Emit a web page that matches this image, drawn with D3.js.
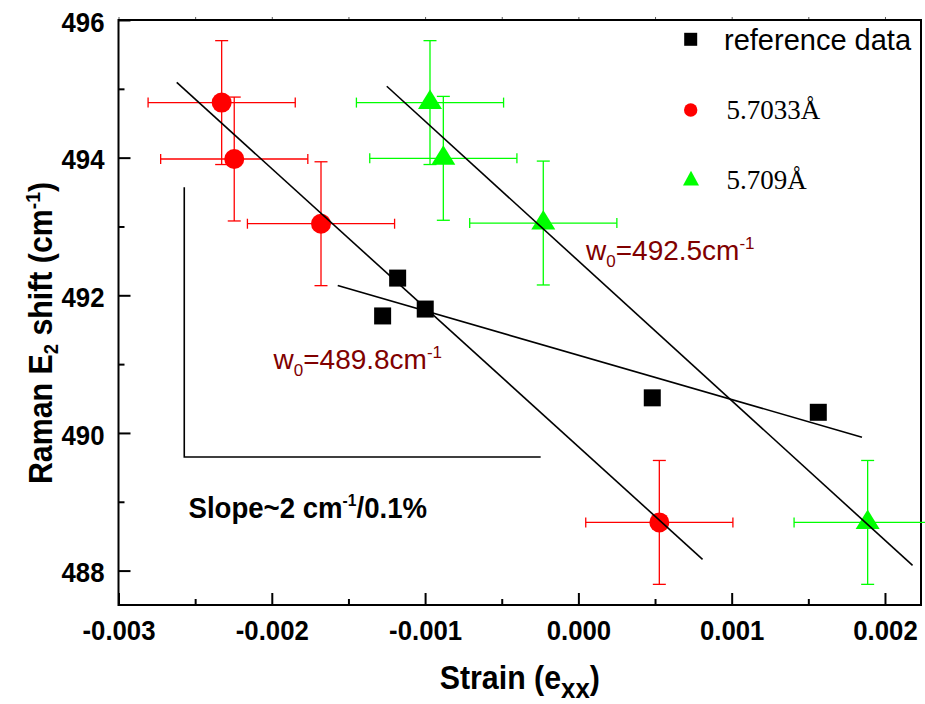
<!DOCTYPE html>
<html>
<head>
<meta charset="utf-8">
<script src="https://cdn.jsdelivr.net/npm/d3@7"></script>
<style>
  body { margin: 0; background: #fff; }
  svg { font-family: "Liberation Sans", Arial, sans-serif; }
  .serif { font-family: "Liberation Serif", "Times New Roman", serif; }
</style>
</head>
<body>
<svg id="chart" width="925" height="704"></svg>
<script>
// Raman E2 shift versus in-plane strain
const refStrain   = [-0.001277, -0.001179, -0.000999, 0.000482, 0.001565];
const refShift    = [491.70, 492.25, 491.80, 490.51, 490.30];
const redStrain   = [-0.002327, -0.002245, -0.001679, 0.000528];
const redShift    = [494.80, 493.98, 493.04, 488.70];
const greenStrain = [-0.000968, -0.000881, -0.000229, 0.001887];
const greenShift  = [494.80, 493.99, 493.05, 488.70];
const strainErr = 0.00048;
const shiftErr  = 0.9;

// linear fits: shift = w0 + slope * strain
const fitW0    = [489.8, 492.5, 491.13];
const fitSlope = [-2020, -2030, -644];
const fitFrom  = [-0.00262, -0.00125, -0.00157];
const fitTo    = [0.00081, 0.00218, 0.00185];
const fitLabelled = [true, true, false];

const xTicks = [-0.003, -0.002, -0.001, 0, 0.001, 0.002];
const xMinor = [-0.0025, -0.0015, -0.0005, 0.0005, 0.0015];
const yTicks = [488, 490, 492, 494, 496];
const yMinor = [489, 491, 493, 495];
const legendLabels = ["reference data", "5.7033Å", "5.709Å"];

// slope guide drawn as an open L
const guideStrain = [-0.002571, -0.000246];
const guideShift  = [493.57, 489.65];

const RED = "#ff0000", GREEN = "#00ff00", NOTE = "#800000";
const SX = 0.92; // horizontal squeeze of the bold labels

const svg = d3.select("#chart");
const L = 118.5, R = 921, T = 20, B = 605;
const x = d3.scaleLinear().domain([-0.003, 0.002235]).range([L, R]);
const y = d3.scaleLinear().domain([487.5, 496]).range([B, T]);

// ---- axes ----
const fmtX = d => d.toFixed(3);
const gx = svg.append("g").attr("transform", `translate(0,${B})`);
gx.call(d3.axisBottom(x).tickValues(xMinor).tickSize(-6).tickSizeOuter(0).tickFormat(""));
gx.append("g").call(d3.axisBottom(x).tickValues(xTicks).tickSize(-12).tickSizeOuter(0)
  .tickPadding(15).tickFormat(fmtX));
gx.selectAll(".domain").remove();
gx.selectAll("line").attr("stroke", "#000").attr("stroke-width", 2);
gx.selectAll("text").attr("font-size", 28).attr("font-weight", "bold")
  .attr("fill", "#000").attr("font-family", null)
  .attr("transform", `scale(${SX},1)`);

const gy = svg.append("g").attr("transform", `translate(${L},0)`);
gy.call(d3.axisLeft(y).tickValues(yMinor).tickSize(-6).tickSizeOuter(0).tickFormat(""));
gy.append("g").call(d3.axisLeft(y).tickValues(yTicks).tickSize(-12).tickSizeOuter(0)
  .tickPadding(14 / SX).tickFormat(d3.format("d")));
gy.selectAll(".domain").remove();
gy.selectAll("line").attr("stroke", "#000").attr("stroke-width", 2);
gy.selectAll("text").attr("font-size", 28).attr("font-weight", "bold")
  .attr("fill", "#000").attr("dy", "0.4em").attr("font-family", null)
  .attr("transform", `scale(${SX},1)`);
gx.attr("font-family", null); gy.attr("font-family", null);
gx.selectAll("g").attr("font-family", null); gy.selectAll("g").attr("font-family", null);

// small outward ticks along the top edge
const gt = svg.append("g").attr("transform", `translate(0,${T})`);
gt.call(d3.axisTop(x).tickValues(xTicks.concat(xMinor)).tickSize(3).tickSizeOuter(0).tickFormat(""));
gt.selectAll(".domain").remove();
gt.selectAll("line").attr("stroke", "#555").attr("stroke-width", 1);

// frame
svg.append("rect").attr("x", L).attr("y", T).attr("width", R - L).attr("height", B - T)
  .attr("fill", "none").attr("stroke", "#000").attr("stroke-width", 2);

// ---- axis titles ----
const xt = svg.append("text").attr("font-weight", "bold").attr("font-size", 33)
  .attr("text-anchor", "middle")
  .attr("transform", `translate(${(L + R) / 2},689) scale(${SX},1)`);
xt.append("tspan").text("Strain (e");
xt.append("tspan").attr("font-size", 28).attr("dy", 9).text("xx");
xt.append("tspan").attr("dy", -9).text(")");

const yt = svg.append("text").attr("font-weight", "bold").attr("font-size", 33)
  .attr("text-anchor", "middle")
  .attr("transform", `translate(52,333) rotate(-90) scale(${SX},1)`);
yt.append("tspan").text("Raman E");
yt.append("tspan").attr("font-size", 20).attr("dy", 6).text("2");
yt.append("tspan").attr("dy", -6).text(" shift (cm");
yt.append("tspan").attr("font-size", 21).attr("dy", -12).text("-1");
yt.append("tspan").attr("dy", 12).text(")");

// ---- slope guide ----
svg.append("path")
  .attr("d", d3.line()([
    [x(guideStrain[0]), y(guideShift[0])],
    [x(guideStrain[0]), y(guideShift[1])],
    [x(guideStrain[1]), y(guideShift[1])]
  ]))
  .attr("fill", "none").attr("stroke", "#000").attr("stroke-width", 1.6);

const st = svg.append("text").attr("font-weight", "bold").attr("font-size", 30)
  .attr("transform", `translate(188.5,518) scale(${SX},1)`);
st.append("tspan").text("Slope~2 cm");
st.append("tspan").attr("font-size", 17).attr("dy", -12).text("-1");
st.append("tspan").attr("dy", 12).text("/0.1%");

// ---- error bars ----
function errorBars(xs, ys, color) {
  const g = svg.append("g").attr("stroke", color).attr("stroke-width", 1.3).attr("fill", "none");
  xs.forEach((s, i) => {
    const v = ys[i];
    const cx = x(s), cy = y(v);
    const x0 = x(s - strainErr), x1 = x(s + strainErr);
    const y0 = y(v + shiftErr), y1 = y(v - shiftErr);
    g.append("line").attr("x1", x0).attr("x2", x1).attr("y1", cy).attr("y2", cy);
    g.append("line").attr("x1", x0).attr("x2", x0).attr("y1", cy - 5).attr("y2", cy + 5);
    g.append("line").attr("x1", x1).attr("x2", x1).attr("y1", cy - 5).attr("y2", cy + 5);
    g.append("line").attr("x1", cx).attr("x2", cx).attr("y1", y0).attr("y2", y1);
    g.append("line").attr("x1", cx - 6.5).attr("x2", cx + 6.5).attr("y1", y0).attr("y2", y0);
    g.append("line").attr("x1", cx - 6.5).attr("x2", cx + 6.5).attr("y1", y1).attr("y2", y1);
  });
}
errorBars(redStrain, redShift, RED);
errorBars(greenStrain, greenShift, GREEN);

// ---- markers ----
function trianglePath(w, h) {
  // centroid at the origin
  return `M0,${-2 * h / 3}L${w / 2},${h / 3}L${-w / 2},${h / 3}Z`;
}
svg.append("g").selectAll("circle").data(redStrain).join("circle")
  .attr("cx", d => x(d)).attr("cy", (d, i) => y(redShift[i])).attr("r", 10).attr("fill", RED);
svg.append("g").selectAll("path").data(greenStrain).join("path")
  .attr("d", trianglePath(24, 19.5))
  .attr("transform", (d, i) => `translate(${x(d)},${y(greenShift[i])})`).attr("fill", GREEN);
svg.append("g").selectAll("rect").data(refStrain).join("rect")
  .attr("x", d => x(d) - 8.5).attr("y", (d, i) => y(refShift[i]) - 8.5)
  .attr("width", 17).attr("height", 17).attr("fill", "#000");

// ---- fit lines ----
fitW0.forEach((w0, i) => {
  const f = s => w0 + fitSlope[i] * s;
  svg.append("line")
    .attr("x1", x(fitFrom[i])).attr("y1", y(f(fitFrom[i])))
    .attr("x2", x(fitTo[i])).attr("y2", y(f(fitTo[i])))
    .attr("stroke", "#000").attr("stroke-width", 1.6);
});

// intercept labels
const notePos = [[273.5, 368.5], [586, 260]];
fitW0.forEach((w0, i) => {
  if (!fitLabelled[i]) return;
  const t = svg.append("text").attr("x", notePos[i][0]).attr("y", notePos[i][1])
    .attr("font-size", 28).attr("fill", NOTE);
  t.append("tspan").text("w");
  t.append("tspan").attr("font-size", 17).attr("dy", 7).text("0");
  t.append("tspan").attr("dy", -7).text("=" + w0.toFixed(1) + "cm");
  t.append("tspan").attr("font-size", 17).attr("dy", -11).text("-1");
});

// ---- legend ----
const lg = svg.append("g");
lg.append("rect").attr("x", 684.2).attr("y", 32.8).attr("width", 13).attr("height", 13).attr("fill", "#000");
lg.append("circle").attr("cx", 690.7).attr("cy", 110).attr("r", 6.7).attr("fill", RED);
lg.append("path").attr("d", trianglePath(16, 14.7)).attr("transform", "translate(691,180.5)").attr("fill", GREEN);
lg.append("text").attr("x", 724).attr("y", 49.5).attr("font-size", 29).attr("fill", "#000")
  .text(legendLabels[0]);
lg.append("text").attr("class", "serif").attr("x", 726.5).attr("y", 118.5).attr("font-size", 27)
  .attr("fill", "#000").text(legendLabels[1]);
lg.append("text").attr("class", "serif").attr("x", 726.5).attr("y", 188.5).attr("font-size", 27)
  .attr("fill", "#000").text(legendLabels[2]);
</script>
</body>
</html>
